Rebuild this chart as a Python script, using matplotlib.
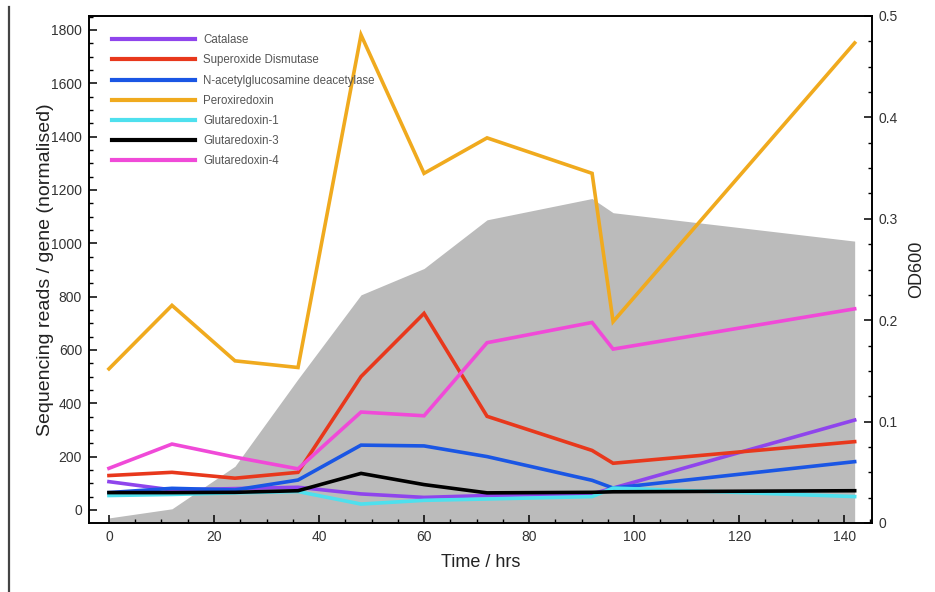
import matplotlib
matplotlib.use("Agg")
from matplotlib import pyplot as plt
from matplotlib.lines import Line2D
from matplotlib.ticker import MultipleLocator, FuncFormatter

plt.rcParams["font.family"] = ["Liberation Sans", "DejaVu Sans"]

# sampling times (hrs)
time_hrs = [0, 12, 24, 36, 48, 60, 72, 92, 96, 142]

# OD600 growth curve (right axis)
od600 = [0.005, 0.014, 0.056, 0.142, 0.225, 0.251, 0.299, 0.320, 0.306, 0.278]

# sequencing reads / gene (normalised)
catalase = [106, 75, 80, 85, 60, 47, 54, 60, 82, 337]
superoxide_dismutase = [129, 141, 119, 141, 500, 737, 351, 223, 175, 256]
nag_deacetylase = [65, 81, 75, 112, 243, 240, 200, 111, 82, 181]
peroxiredoxin = [529, 767, 559, 534, 1781, 1262, 1395, 1262, 706, 1751]
glutaredoxin_1 = [54, 58, 64, 69, 22, 36, 41, 50, 82, 50]
glutaredoxin_3 = [65, 65, 66, 72, 137, 95, 64, 66, 68, 72]
glutaredoxin_4 = [156, 247, 198, 154, 367, 353, 627, 703, 603, 754]

series = [
    ("Catalase", catalase, "#8f45ec"),
    ("Superoxide Dismutase", superoxide_dismutase, "#e8381c"),
    ("N-acetylglucosamine deacetylase", nag_deacetylase, "#1a56e4"),
    ("Peroxiredoxin", peroxiredoxin, "#f0aa1e"),
    ("Glutaredoxin-1", glutaredoxin_1, "#4ee0ee"),
    ("Glutaredoxin-3", glutaredoxin_3, "#000000"),
    ("Glutaredoxin-4", glutaredoxin_4, "#f04ad8"),
]


def main():
    fig = plt.figure(figsize=(9.35, 5.92), dpi=100)
    ax = fig.add_axes([89 / 935, 69 / 592, 783 / 935, 507 / 592])
    ax2 = ax.twinx()

    # grey growth area behind the lines
    ax2.fill_between(time_hrs, od600, 0, color="#bbbbbb", linewidth=0)
    ax2.set_ylim(0, 0.5)
    ax.set_zorder(ax2.get_zorder() + 1)
    ax.patch.set_visible(False)

    for label, values, color in series:
        ax.plot(time_hrs, values, color=color, lw=2.6, label=label,
                solid_joinstyle="miter")

    ax.set_xlim(-3.8, 145.3)
    ax.set_ylim(-49, 1852)

    ax.xaxis.set_major_locator(MultipleLocator(20))
    ax.xaxis.set_minor_locator(MultipleLocator(5))
    ax.yaxis.set_major_locator(MultipleLocator(200))
    ax.yaxis.set_minor_locator(MultipleLocator(50))
    ax2.yaxis.set_major_locator(MultipleLocator(0.1))
    ax2.yaxis.set_minor_locator(MultipleLocator(0.025))
    ax2.yaxis.set_major_formatter(
        FuncFormatter(lambda v, p: "0" if abs(v) < 1e-9 else f"{v:.1f}"))

    for a in (ax, ax2):
        a.tick_params(which="major", direction="in", length=6, width=1.1,
                      labelsize=10, labelcolor="#333333", pad=5)
        a.tick_params(which="minor", direction="in", length=3, width=1.0)
        for s in a.spines.values():
            s.set_linewidth(1.2)
    ax.tick_params(axis="y", which="both", right=False)

    ax.set_xlabel("Time / hrs", fontsize=13, color="#222222", labelpad=7)
    ax.set_ylabel("Sequencing reads / gene (normalised)", fontsize=14,
                  color="#222222")
    ax.yaxis.set_label_coords(-0.0447, 0.5)
    ax2.set_ylabel("OD600", fontsize=13, color="#222222", rotation=90)
    ax2.yaxis.set_label_coords(1.046, 0.5)

    leg = ax.legend(loc="upper left", bbox_to_anchor=(0.0294, 0.964),
                    frameon=False, fontsize=8.3, handlelength=7.2,
                    handletextpad=0.7, labelspacing=0.71, borderpad=0,
                    borderaxespad=0)
    for t in leg.get_texts():
        t.set_color("#555555")
    for h in leg.get_lines():
        h.set_linewidth(3)

    # page border line on the left edge
    fig.add_artist(Line2D([9 / 935, 9 / 935], [0, 1 - 7 / 592],
                          transform=fig.transFigure, color="#444444", lw=1.6))

    fig.savefig("out.png", dpi=100)
    plt.close(fig)


if __name__ == "__main__":
    main()
